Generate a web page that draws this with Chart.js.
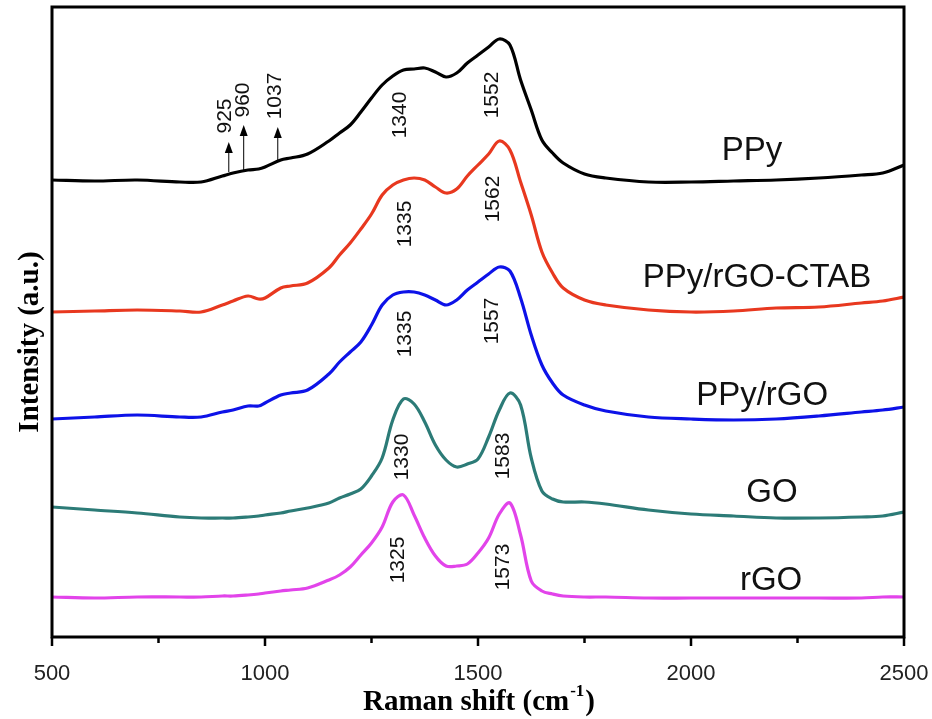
<!DOCTYPE html>
<html>
<head>
<meta charset="utf-8">
<script src="https://cdn.jsdelivr.net/npm/chart.js@4.4.1/dist/chart.umd.min.js"></script>
<style>
  body { margin: 0; background: #fff; }
  #wrap { width: 932px; height: 719px; }
</style>
</head>
<body>
<div id="wrap"><canvas id="raman-canvas"></canvas></div>
<script>
'use strict';

// Raman shift (cm-1), shared by all spectra
var shifts = [500, 600, 700, 800, 850, 900, 925, 960, 985, 1000, 1037, 1060, 1100,
  1150, 1175, 1200, 1225, 1250, 1275, 1300, 1325, 1350, 1375, 1400, 1425, 1450, 1475, 1500, 1525,
  1550, 1575, 1600, 1625, 1650, 1675, 1700,
  1750, 1800, 1900, 2000, 2100, 2200, 2300, 2400, 2450, 2500];

// intensities (a.u., offset stacked)
var ppy = [457, 456, 457, 455, 455, 461, 464, 467, 468, 470, 477, 479, 483,
  496, 504, 512, 525, 539, 552, 561, 567, 568, 569, 565, 560, 564, 574, 582, 590,
  598, 592, 557, 527, 497, 484, 474,
  463, 459, 455, 455, 456, 457, 459, 462, 464, 472];
var ppyCtab = [325, 326, 327, 326, 325, 332, 336, 341, 338, 339, 349, 351, 354,
  369, 382, 394, 408, 423, 442, 452, 457, 459, 457, 450, 444, 448, 461, 472, 483,
  496, 487, 455, 422, 385, 364, 349,
  337, 332, 327, 325, 326, 329, 330, 334, 336, 340];
var ppyRgo = [218, 220, 222, 220, 220, 225, 227, 231, 231, 234, 242, 244, 247,
  263, 275, 285, 295, 312, 332, 342, 345, 345, 342, 337, 332, 337, 347, 355, 363,
  370, 366, 339, 302, 272, 254, 242,
  232, 226, 220, 218, 217, 218, 221, 225, 227, 230];
var go = [130, 127, 124, 120, 119, 119, 119, 120, 121, 122, 124, 126, 129,
  134, 139, 143, 148, 161, 179, 217, 238, 233, 215, 192, 177, 170, 173, 178, 200,
  227, 244, 232, 179, 146, 138, 135,
  135, 133, 127, 123, 121, 119, 119, 120, 121, 125];
var rgo = [40, 39, 40, 40, 40, 41, 41, 42, 43, 44, 46, 47, 49,
  57, 62, 70, 82, 94, 110, 135, 142, 122, 99, 81, 71, 71, 73, 84, 99,
  123, 134, 102, 56, 46, 43, 41,
  40, 40, 39, 39, 39, 39, 39, 39, 40, 40];

var seriesNames = ['PPy', 'PPy/rGO-CTAB', 'PPy/rGO', 'GO', 'rGO'];
var seriesColors = ['#000000', '#e8381f', '#0d12e8', '#2c7b77', '#e244ea'];

// curve name labels: centre shift, baseline intensity
var nameX = [2143, 2155, 2167, 2190, 2188];
var nameY = [477, 350, 232, 135, 47];

// rotated peak labels: text, centre shift, centre intensity
var peakText = ['925', '960', '1037', '1340', '1552', '1335', '1562', '1335', '1557', '1330', '1583', '1325', '1573'];
var peakX = [906, 948, 1023, 1317, 1533, 1329, 1535, 1329, 1533, 1322, 1559, 1312, 1559];
var peakY = [521, 537, 541, 522, 542, 413, 438, 303, 316, 180, 181, 77, 70];

// arrows on the PPy curve: shift, tail intensity, tip intensity
var arrowX = [915, 950, 1030];
var arrowFrom = [465, 467, 477];
var arrowTo = [495, 512, 510];

var majorTicks = [500, 1000, 1500, 2000, 2500];
var minorTicks = [750, 1250, 1750, 2250];

function pairs(ys) {
  var out = [];
  for (var i = 0; i < shifts.length; i++) {
    out.push({ x: shifts[i], y: ys[i] });
  }
  return out;
}

var allSeries = [ppy, ppyCtab, ppyRgo, go, rgo];
var datasets = [];
for (var k = 0; k < allSeries.length; k++) {
  datasets.push({
    label: seriesNames[k],
    data: pairs(allSeries[k]),
    borderColor: seriesColors[k],
    borderWidth: 3.2,
    pointRadius: 0,
    fill: false,
    tension: 0.35
  });
}

var decorPlugin = {
  id: 'decor',
  afterDatasetsDraw: function(chart) {
    var ctx = chart.ctx;
    var xs = chart.scales.x;
    var ys = chart.scales.y;
    var area = chart.chartArea;
    var i;

    ctx.save();
    // frame
    ctx.strokeStyle = '#000';
    ctx.lineWidth = 3;
    ctx.strokeRect(area.left, area.top, area.right - area.left, area.bottom - area.top);

    // ticks, pointing out of the frame, and their labels
    ctx.lineWidth = 2.5;
    ctx.beginPath();
    for (i = 0; i < majorTicks.length; i++) {
      var px = xs.getPixelForValue(majorTicks[i]);
      ctx.moveTo(px, area.bottom);
      ctx.lineTo(px, area.bottom + 9);
    }
    for (i = 0; i < minorTicks.length; i++) {
      var mx = xs.getPixelForValue(minorTicks[i]);
      ctx.moveTo(mx, area.bottom);
      ctx.lineTo(mx, area.bottom + 6);
    }
    ctx.stroke();

    ctx.fillStyle = '#222';
    ctx.font = '22px "Liberation Sans", Arial, sans-serif';
    ctx.textAlign = 'center';
    ctx.textBaseline = 'alphabetic';
    for (i = 0; i < majorTicks.length; i++) {
      ctx.fillText(String(majorTicks[i]), xs.getPixelForValue(majorTicks[i]), 680);
    }

    // arrows
    ctx.lineWidth = 1;
    ctx.fillStyle = '#000';
    for (i = 0; i < arrowX.length; i++) {
      var ax = xs.getPixelForValue(arrowX[i]);
      var y0 = ys.getPixelForValue(arrowFrom[i]);
      var y1 = ys.getPixelForValue(arrowTo[i]);
      ctx.beginPath();
      ctx.moveTo(ax, y0);
      ctx.lineTo(ax, y1 + 8);
      ctx.stroke();
      ctx.beginPath();
      ctx.moveTo(ax, y1);
      ctx.lineTo(ax - 4, y1 + 11);
      ctx.lineTo(ax + 4, y1 + 11);
      ctx.closePath();
      ctx.fill();
    }

    // curve names
    ctx.fillStyle = '#111';
    ctx.font = '33px "Liberation Sans", Arial, sans-serif';
    ctx.textAlign = 'center';
    ctx.textBaseline = 'alphabetic';
    for (i = 0; i < seriesNames.length; i++) {
      ctx.fillText(seriesNames[i], xs.getPixelForValue(nameX[i]), ys.getPixelForValue(nameY[i]));
    }

    // peak positions, rotated
    ctx.font = '21px "Liberation Sans", Arial, sans-serif';
    ctx.textBaseline = 'middle';
    for (i = 0; i < peakText.length; i++) {
      ctx.save();
      ctx.translate(xs.getPixelForValue(peakX[i]), ys.getPixelForValue(peakY[i]));
      ctx.rotate(-Math.PI / 2);
      ctx.fillText(peakText[i], 0, 0);
      ctx.restore();
    }

    // axis titles
    ctx.fillStyle = '#000';
    ctx.font = 'bold 29px "Liberation Serif", "Times New Roman", serif';
    ctx.textBaseline = 'alphabetic';
    ctx.textAlign = 'left';
    var main = 'Raman shift (cm';
    var sup = '-1';
    var tail = ')';
    var wMain = ctx.measureText(main).width;
    var wTail = ctx.measureText(tail).width;
    ctx.font = 'bold 17px "Liberation Serif", "Times New Roman", serif';
    var wSup = ctx.measureText(sup).width;
    var startX = (area.left + area.right) / 2 - (wMain + wSup + wTail) / 2;
    var baseY = 710;
    ctx.font = 'bold 29px "Liberation Serif", "Times New Roman", serif';
    ctx.fillText(main, startX, baseY);
    ctx.font = 'bold 17px "Liberation Serif", "Times New Roman", serif';
    ctx.fillText(sup, startX + wMain + 1, baseY - 14);
    ctx.font = 'bold 29px "Liberation Serif", "Times New Roman", serif';
    ctx.fillText(tail, startX + wMain + wSup + 2, baseY);

    ctx.save();
    ctx.translate(38, 342);
    ctx.rotate(-Math.PI / 2);
    ctx.textAlign = 'center';
    ctx.fillText('Intensity (a.u.)', 0, 0);
    ctx.restore();

    ctx.restore();
  }
};

var ctx = document.getElementById('raman-canvas').getContext('2d');
var chartObj = new Chart(ctx, {
  type: 'line',
  data: { datasets: datasets },
  options: {
    responsive: true,
    maintainAspectRatio: false,
    animation: false,
    layout: { padding: { left: 0, top: 7, right: 28, bottom: 0 } },
    plugins: {
      legend: { display: false },
      tooltip: { enabled: false }
    },
    scales: {
      x: {
        type: 'linear',
        min: 500,
        max: 2500,
        grid: { display: false, drawTicks: false },
        border: { display: false },
        ticks: { display: false, stepSize: 500 },
        afterFit: function(scale) { scale.height = 82; }
      },
      y: {
        min: 0,
        max: 630,
        grid: { display: false, drawTicks: false },
        border: { display: false },
        ticks: { display: false },
        afterFit: function(scale) { scale.width = 52; }
      }
    }
  },
  plugins: [decorPlugin]
});
</script>
</body>
</html>
